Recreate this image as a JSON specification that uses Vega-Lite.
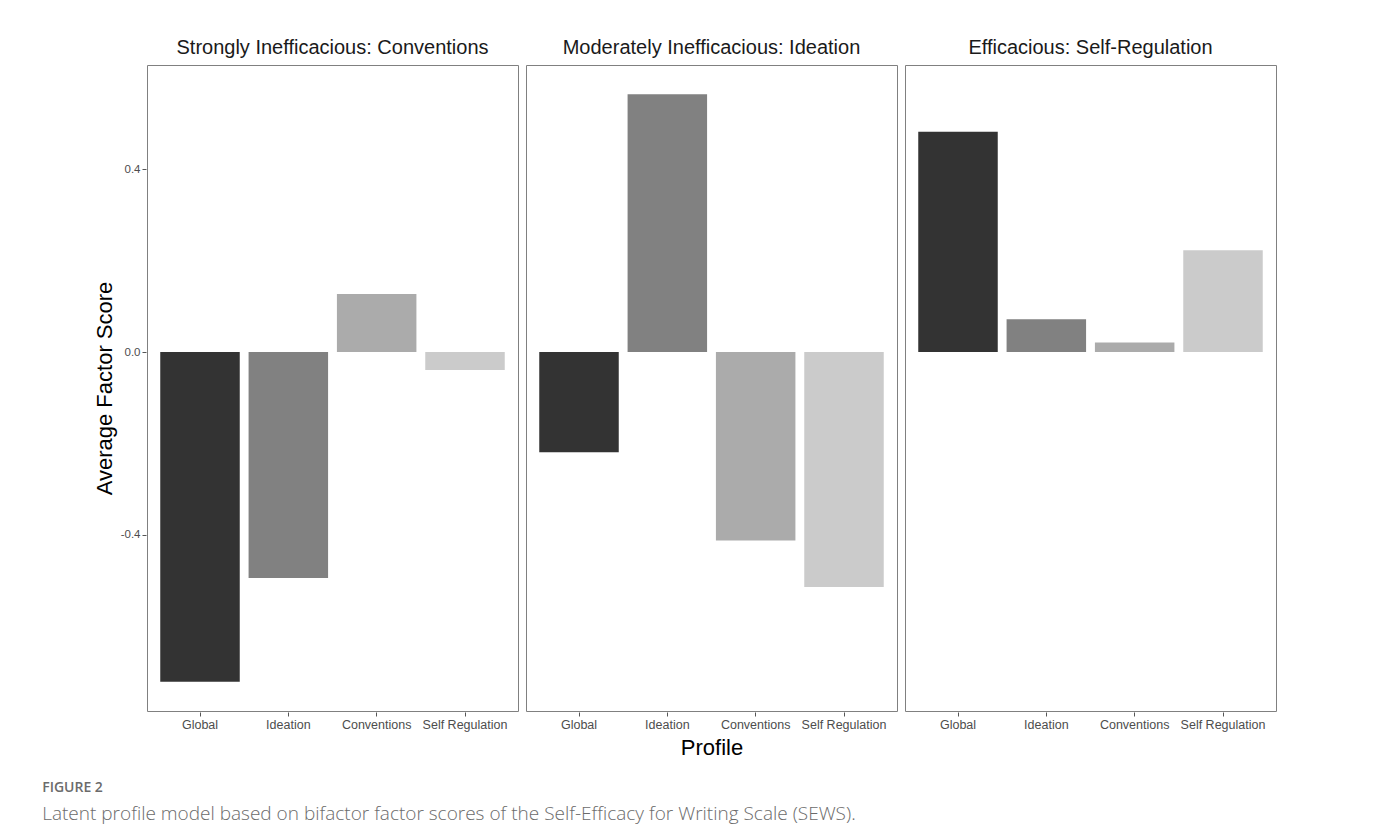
{
  "$schema": "https://vega.github.io/schema/vega-lite/v6.json",
  "background": "white",
  "padding": {"left": 42, "top": 38, "right": 20, "bottom": 10},
  "title": {
    "text": "FIGURE 2",
    "subtitle": "Latent profile model based on bifactor factor scores of the Self-Efficacy for Writing Scale (SEWS).",
    "orient": "bottom",
    "anchor": "start",
    "frame": "bounds",
    "offset": 22,
    "dx": -51,
    "font": "Open Sans",
    "fontSize": 14,
    "fontWeight": 600,
    "color": "#6b6b6b",
    "subtitleFont": "Open Sans",
    "subtitleFontSize": 19,
    "subtitleFontWeight": 300,
    "subtitleColor": "#6b6b6b",
    "subtitlePadding": 10
  },
  "data": {
    "values": [
      {"profile": "Strongly Inefficacious: Conventions", "factor": "Global", "score": -0.721},
      {"profile": "Strongly Inefficacious: Conventions", "factor": "Ideation", "score": -0.494},
      {"profile": "Strongly Inefficacious: Conventions", "factor": "Conventions", "score": 0.127},
      {"profile": "Strongly Inefficacious: Conventions", "factor": "Self Regulation", "score": -0.039},
      {"profile": "Moderately Inefficacious: Ideation", "factor": "Global", "score": -0.219},
      {"profile": "Moderately Inefficacious: Ideation", "factor": "Ideation", "score": 0.564},
      {"profile": "Moderately Inefficacious: Ideation", "factor": "Conventions", "score": -0.412},
      {"profile": "Moderately Inefficacious: Ideation", "factor": "Self Regulation", "score": -0.514},
      {"profile": "Efficacious: Self-Regulation", "factor": "Global", "score": 0.482},
      {"profile": "Efficacious: Self-Regulation", "factor": "Ideation", "score": 0.072},
      {"profile": "Efficacious: Self-Regulation", "factor": "Conventions", "score": 0.021},
      {"profile": "Efficacious: Self-Regulation", "factor": "Self Regulation", "score": 0.223}
    ]
  },
  "facet": {
    "column": {
      "field": "profile",
      "type": "nominal",
      "sort": ["Strongly Inefficacious: Conventions", "Moderately Inefficacious: Ideation", "Efficacious: Self-Regulation"],
      "title": "Profile",
      "header": {
        "labelOrient": "top",
        "titleOrient": "bottom",
        "labelFont": "Liberation Sans",
        "labelFontSize": 20,
        "labelColor": "#1a1a1a",
        "labelPadding": 6,
        "titleFont": "Liberation Sans",
        "titleFontSize": 22,
        "titleFontWeight": "normal",
        "titleColor": "black",
        "titlePadding": -3
      }
    }
  },
  "spacing": 6,
  "spec": {
    "width": 371,
    "height": 646,
    "mark": {"type": "bar"},
    "encoding": {
      "x": {
        "field": "factor",
        "type": "nominal",
        "sort": ["Global", "Ideation", "Conventions", "Self Regulation"],
        "scale": {"paddingInner": 0.1, "paddingOuter": 0.15},
        "axis": {
          "title": null,
          "labelAngle": 0,
          "labelFont": "Liberation Sans",
          "labelFontSize": 12.5,
          "labelColor": "#4d4d4d",
          "labelPadding": 2,
          "tickSize": 4,
          "tickColor": "#555555",
          "domain": false,
          "grid": false
        }
      },
      "y": {
        "field": "score",
        "type": "quantitative",
        "scale": {"domain": [-0.785, 0.628], "nice": false, "zero": false},
        "axis": {
          "title": "Average Factor Score",
          "titleFont": "Liberation Sans",
          "titleFontSize": 22,
          "titleFontWeight": "normal",
          "titleColor": "black",
          "titlePadding": 4,
          "values": [-0.4, 0, 0.4],
          "format": ".1f",
          "labelExpr": "replace(datum.label, '\u2212', '-')",
          "labelFont": "Liberation Sans",
          "labelFontSize": 11.5,
          "labelColor": "#4d4d4d",
          "labelPadding": 2,
          "tickSize": 4,
          "tickColor": "#555555",
          "domain": false,
          "grid": false
        }
      },
      "color": {
        "field": "factor",
        "type": "nominal",
        "sort": ["Global", "Ideation", "Conventions", "Self Regulation"],
        "scale": {
          "domain": ["Global", "Ideation", "Conventions", "Self Regulation"],
          "range": ["#333333", "#818181", "#ababab", "#cbcbcb"]
        },
        "legend": null
      }
    }
  },
  "config": {
    "view": {"stroke": "#808080", "strokeWidth": 1},
    "font": "Liberation Sans"
  }
}
